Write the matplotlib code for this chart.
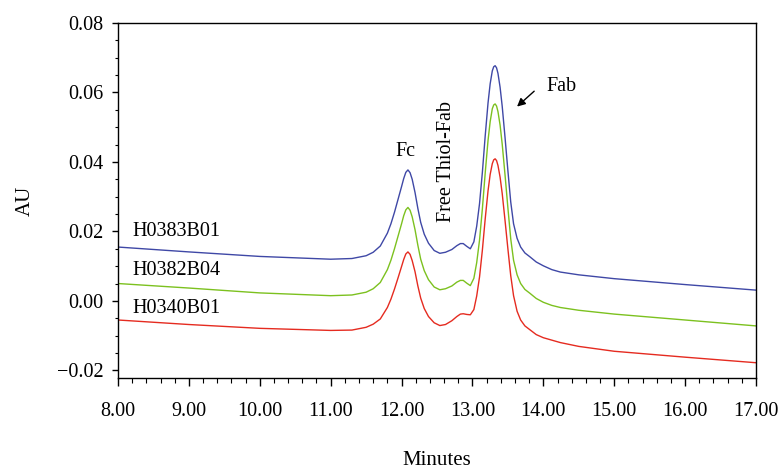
import matplotlib.pyplot as plt
from matplotlib.ticker import MultipleLocator, FuncFormatter

plt.rcParams['font.family'] = ['Liberation Serif', 'DejaVu Serif']

# retention time (minutes)
minutes = [8.0, 9.0, 10.0, 11.0, 11.3, 11.5, 11.6, 11.7,
           11.80, 11.85, 11.90, 11.95, 12.00, 12.03, 12.06, 12.09, 12.12, 12.15,
           12.19, 12.23, 12.27, 12.32, 12.38,
           12.46, 12.54, 12.62, 12.71, 12.78, 12.83, 12.87, 12.92, 12.97,
           13.02, 13.06, 13.10, 13.14, 13.18, 13.22, 13.25, 13.28, 13.30, 13.32,
           13.34, 13.36, 13.39, 13.42, 13.46, 13.50, 13.54, 13.58, 13.63, 13.68,
           13.74, 13.81, 13.90, 14.0, 14.12, 14.24, 14.5, 15.0, 16.0, 17.0]

h0383b01 = [0.0155, 0.0141, 0.0128, 0.0120, 0.0122, 0.0130, 0.0140, 0.0158,
            0.0195, 0.0222, 0.0255, 0.0292, 0.0329, 0.0352, 0.0370, 0.0377, 0.0369, 0.0350,
            0.0312, 0.0266, 0.0226, 0.0192, 0.0166,
            0.0145, 0.0137, 0.0140, 0.0148, 0.0159, 0.0165, 0.0165, 0.0157, 0.0150,
            0.0170, 0.0215, 0.0280, 0.0370, 0.0475, 0.0570, 0.0625, 0.0662, 0.0674, 0.0677,
            0.0671, 0.0655, 0.0615, 0.0560, 0.0470, 0.0375, 0.0285, 0.0222, 0.0180, 0.0155,
            0.0138, 0.0127, 0.0112, 0.0101, 0.0090, 0.0083, 0.0075, 0.0064, 0.0047, 0.0031]

h0382b04 = [0.0050, 0.0037, 0.0023, 0.0015, 0.0017, 0.0025, 0.0035, 0.0053,
            0.0090, 0.0117, 0.0150, 0.0186, 0.0222, 0.0245, 0.0262, 0.0269, 0.0261, 0.0242,
            0.0205, 0.0160, 0.0120, 0.0087, 0.0061,
            0.0040, 0.0032, 0.0035, 0.0043, 0.0054, 0.0059, 0.0059, 0.0051, 0.0044,
            0.0065, 0.0110, 0.0175, 0.0265, 0.0368, 0.0462, 0.0516, 0.0553, 0.0564, 0.0567,
            0.0561, 0.0545, 0.0506, 0.0451, 0.0362, 0.0268, 0.0179, 0.0117, 0.0075, 0.0050,
            0.0033, 0.0022, 0.0007, -0.0004, -0.0013, -0.0019, -0.0027, -0.0038, -0.0055, -0.0072]

h0340b01 = [-0.0055, -0.0068, -0.0079, -0.0085, -0.0084, -0.0076, -0.0067, -0.0052,
            -0.0019, 0.0005, 0.0034, 0.0066, 0.0099, 0.0119, 0.0135, 0.0141, 0.0134, 0.0116,
            0.0084, 0.0043, 0.0008, -0.0022, -0.0045,
            -0.0063, -0.0071, -0.0068, -0.0057, -0.0045, -0.0038, -0.0037, -0.0039, -0.0040,
            -0.0025, 0.0014, 0.0069, 0.0146, 0.0236, 0.0317, 0.0364, 0.0395, 0.0406, 0.0409,
            0.0404, 0.0390, 0.0356, 0.0309, 0.0231, 0.0150, 0.0073, 0.0015, -0.0030, -0.0055,
            -0.0072, -0.0083, -0.0097, -0.0106, -0.0113, -0.0120, -0.0131, -0.0145, -0.0162, -0.0178]

fig = plt.figure(figsize=(7.78, 4.69), dpi=100)
ax = fig.add_axes([0.1517, 0.194, 0.82, 0.757])

ax.plot(minutes, h0383b01, color='#3f48a6', lw=1.0)
ax.plot(minutes, h0382b04, color='#7cc11f', lw=1.0)
ax.plot(minutes, h0340b01, color='#e52b20', lw=1.0)

ax.set_xlim(8, 17)
ax.set_ylim(-0.0222, 0.08)
ax.xaxis.set_major_locator(MultipleLocator(1))
ax.xaxis.set_minor_locator(MultipleLocator(0.2))
ax.yaxis.set_major_locator(MultipleLocator(0.02))
ax.yaxis.set_minor_locator(MultipleLocator(0.005))
fmt = FuncFormatter(lambda v, p: ('%.2f' % v).replace('-', '\u2212'))
ax.xaxis.set_major_formatter(fmt)
ax.yaxis.set_major_formatter(fmt)
ax.tick_params(axis='x', which='major', length=6, width=1, pad=11, labelsize=14.5)
ax.tick_params(axis='x', which='minor', length=3.5, width=0.8)
ax.tick_params(axis='y', which='major', length=4.5, width=1, pad=6, labelsize=14.5)
ax.tick_params(axis='y', which='minor', length=2.5, width=0.8)
for s in ax.spines.values():
    s.set_linewidth(1.0)

ax.set_xlabel('Minutes', fontsize=15, labelpad=22)
ax.set_ylabel('AU', fontsize=15, labelpad=16)

ax.text(8.2, 0.0201, 'H0383B01', fontsize=14.5, va='center')
ax.text(8.2, 0.0087, 'H0382B04', fontsize=14.5, va='center')
ax.text(8.2, -0.0021, 'H0340B01', fontsize=14.5, va='center')
ax.text(12.05, 0.0430, 'Fc', fontsize=14.5, ha='center', va='center')
ax.text(12.64, 0.0401, 'Free Thiol-Fab', fontsize=14.5, ha='center', va='center', rotation=90)
ax.text(14.26, 0.0617, 'Fab', fontsize=14.5, ha='center', va='center')
ax.annotate('', xy=(13.6, 0.0554), xytext=(13.9, 0.0609),
            arrowprops=dict(arrowstyle='-|>', color='black', lw=1.0, mutation_scale=12))

fig.savefig('out.png', dpi=100)
